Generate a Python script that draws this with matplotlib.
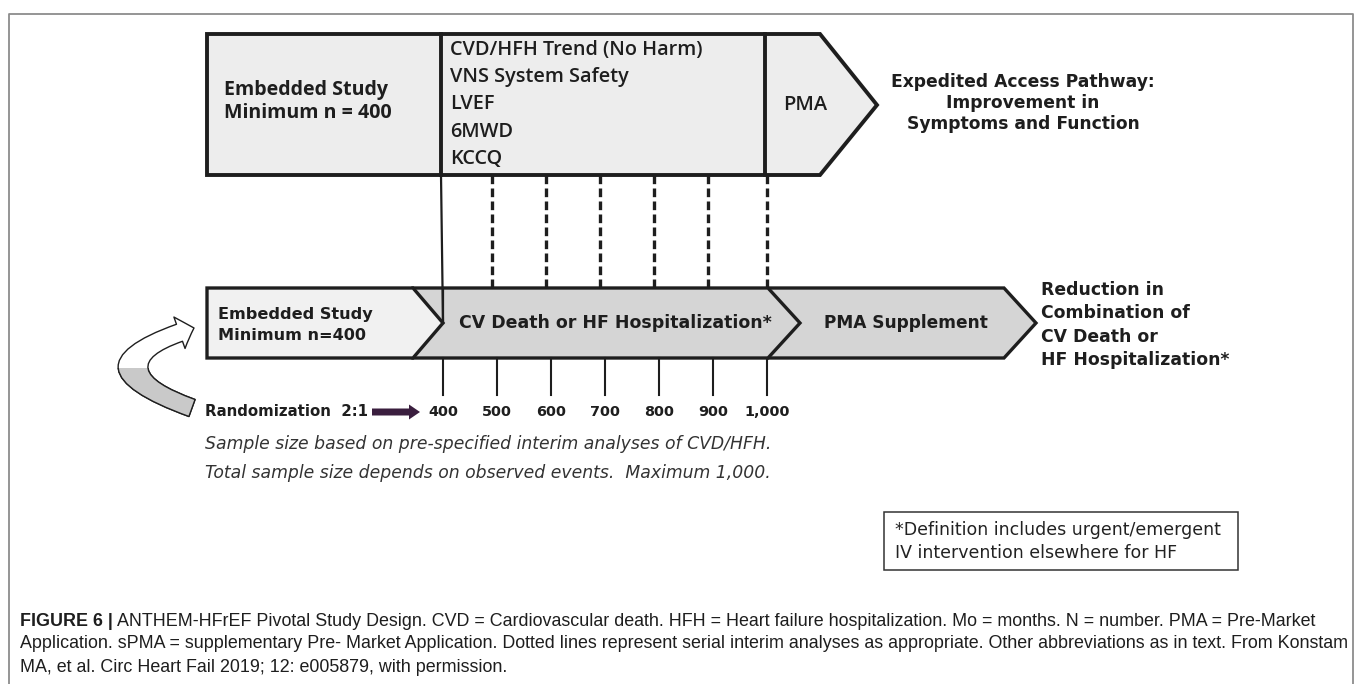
import matplotlib.pyplot as plt
from matplotlib.patches import Polygon, Rectangle, FancyArrowPatch, FancyArrow

# chart content
top_study = ["Embedded Study", "Minimum n = 400"]
top_endpoints = ["CVD/HFH Trend (No Harm)", "VNS System Safety", "LVEF", "6MWD", "KCCQ"]
top_stage = "PMA"
top_outcome = ["Expedited Access Pathway:", "Improvement in", "Symptoms and Function"]

bottom_study = ["Embedded Study", "Minimum n=400"]
bottom_main = "CV Death or HF Hospitalization*"
bottom_stage = "PMA Supplement"
bottom_outcome = ["Reduction in", "Combination of", "CV Death or", "HF Hospitalization*"]

sample_sizes = [400, 500, 600, 700, 800, 900, 1000]
sample_labels = ["400", "500", "600", "700", "800", "900", "1,000"]
randomization = "Randomization  2:1"
notes = ["Sample size based on pre-specified interim analyses of CVD/HFH.",
         "Total sample size depends on observed events.  Maximum 1,000."]
footnote = ["*Definition includes urgent/emergent", "IV intervention elsewhere for HF"]
caption_head = "FIGURE 6 |"
caption = [" ANTHEM-HFrEF Pivotal Study Design. CVD = Cardiovascular death. HFH = Heart failure hospitalization. Mo = months. N = number. PMA = Pre-Market",
           "Application. sPMA = supplementary Pre- Market Application. Dotted lines represent serial interim analyses as appropriate. Other abbreviations as in text. From Konstam",
           "MA, et al. Circ Heart Fail 2019; 12: e005879, with permission."]

W, H = 1357, 684
INK = '#1e1e1e'
LIGHT = '#ededed'
GRAY = '#d5d5d5'
CAP_FONT = ['Liberation Sans Narrow', 'Liberation Sans']


def sx(n):
    # sample size -> pixel position on the timeline
    return 443 + (n - 400) * 0.54


def main():
    fig = plt.figure(figsize=(W / 100, H / 100), dpi=100)
    ax = fig.add_axes([0, 0, 1, 1])
    ax.set_xlim(0, W)
    ax.set_ylim(H, 0)
    ax.axis('off')

    groups = []

    def put(x, y, s, **kw):
        kw.setdefault('color', INK)
        kw.setdefault('va', 'center')
        return ax.text(x, y, s, **kw)

    # page frame
    ax.plot([9, 9, 1353, 1353], [H, 14, 14, H], color='#8c8c8c', lw=1.3)

    # top row: one outline with two dividers
    ax.add_patch(Polygon([(207, 34), (820, 34), (877, 105), (820, 175), (207, 175)],
                         closed=True, fc=LIGHT, ec=INK, lw=2.8, joinstyle='miter'))
    for x in (441, 765):
        ax.plot([x, x], [34, 175], color=INK, lw=2.8)

    ts = [put(224, 90 + 23 * i, s, family='Open Sans', weight='bold', fontsize=12)
          for i, s in enumerate(top_study)]
    groups.append((ts, 0, 164))
    te = [put(450, 50 + 27.2 * i, s, family='Open Sans', weight='semibold', fontsize=12)
          for i, s in enumerate(top_endpoints)]
    groups.append((te, 0, 252))
    tp = [put(805, 105, top_stage, family='Open Sans', weight='semibold', fontsize=12, ha='center')]
    groups.append((tp, 0, 44))
    to = [put(1023, 82 + 21 * i, s, weight='bold', fontsize=12, ha='center')
          for i, s in enumerate(top_outcome)]
    groups.append((to, 0, 263))

    # interim analyses (dashed) and link line
    for n in sample_sizes:
        x = sx(n) if n == sample_sizes[-1] else sx(n) - 5
        if n == sample_sizes[0]:
            ax.plot([441, 443], [175, 323], color=INK, lw=1.6)
        else:
            ax.plot([x, x], [175, 288], color=INK, lw=2.4, ls=(0, (2.6, 1.3)))

    # bottom row chevrons
    ax.add_patch(Polygon([(768, 288), (1004, 288), (1036, 323), (1004, 358), (768, 358)],
                         closed=True, fc=GRAY, ec=INK, lw=2.4, joinstyle='miter'))
    ax.add_patch(Polygon([(413, 288), (768, 288), (800, 323), (768, 358), (413, 358)],
                         closed=True, fc=GRAY, ec=INK, lw=2.4, joinstyle='miter'))
    ax.plot([443, 443], [288, 323], color=INK, lw=1.6)
    ax.add_patch(Polygon([(207, 288), (413, 288), (443, 323), (413, 358), (207, 358)],
                         closed=True, fc='#f1f1f1', ec=INK, lw=2.4, joinstyle='miter'))

    bs = [put(218, 314 + 22 * i, s, weight='bold', fontsize=12)
          for i, s in enumerate(bottom_study)]
    groups.append((bs, 0, 154))
    groups.append(([put(615, 323, bottom_main, weight='bold', fontsize=12, ha='center')], 0, 311))
    groups.append(([put(906, 323, bottom_stage, weight='bold', fontsize=12, ha='center')], 0, 163))
    bo = [put(1041, 290 + 23.3 * i, s, weight='bold', fontsize=12)
          for i, s in enumerate(bottom_outcome)]
    groups.append((bo, 3, 187))

    # timeline ticks and labels
    for n in sample_sizes:
        ax.plot([sx(n), sx(n)], [358, 395], color=INK, lw=1.5)
    tl = [put(sx(n), 412, lab, weight='bold', fontsize=10, ha='center')
          for n, lab in zip(sample_sizes, sample_labels)]
    groups.append((tl, 0, 30))
    groups.append(([put(205, 412, randomization, weight='bold', fontsize=10)], 0, 164))
    ax.add_patch(FancyArrow(372, 412, 48, 0, width=7, head_width=15, head_length=11,
                            length_includes_head=True, color='#3a1e3e', lw=0))

    # curved "randomization" arrow, lower half shaded
    style = 'simple,head_width=2.4,head_length=1.1,tail_width=1.3'
    for fc, clip in (('white', None), ('#c9c9c9', Rectangle((0, 368), 260, 80, transform=ax.transData))):
        arr = FancyArrowPatch((192, 408), (194, 328), connectionstyle='arc3,rad=-1.5',
                              arrowstyle=style, mutation_scale=10, fc=fc, ec=INK, lw=1.0,
                              shrinkA=0, shrinkB=0)
        ax.add_patch(arr)
        if clip is not None:
            arr.set_clip_path(clip)

    nt = [put(205, 444 + 29 * i, s, style='italic', color='#333333', fontsize=11)
          for i, s in enumerate(notes)]
    groups.append((nt, 0, 567))

    # footnote box
    ax.add_patch(Rectangle((884, 512), 354, 58, fc='white', ec='#333333', lw=1.1))
    fn = [put(895, 530 + 23 * i, s, color='#222222', fontsize=11)
          for i, s in enumerate(footnote)]
    groups.append((fn, 0, 325))

    # caption, one size for all lines, fitted on the second line
    cap_y = [621, 644, 667]
    head = put(20, cap_y[0], caption_head, family=CAP_FONT, weight='bold', fontsize=11)
    cl = [put(20, y, s, family=CAP_FONT, fontsize=11) for y, s in zip(cap_y, caption)]
    groups.append((cl + [head], 1, 1320))

    fig.canvas.draw()
    r = fig.canvas.get_renderer()
    for texts, ref, width in groups:
        size = texts[ref].get_fontsize() * width / texts[ref].get_window_extent(r).width
        for t in texts:
            t.set_fontsize(size)
    fig.canvas.draw()
    inv = ax.transData.inverted()
    end = inv.transform(head.get_window_extent(r).get_points())[1][0]
    cl[0].set_x(end)

    plt.savefig('out.png', dpi=100)


if __name__ == "__main__":
    main()
